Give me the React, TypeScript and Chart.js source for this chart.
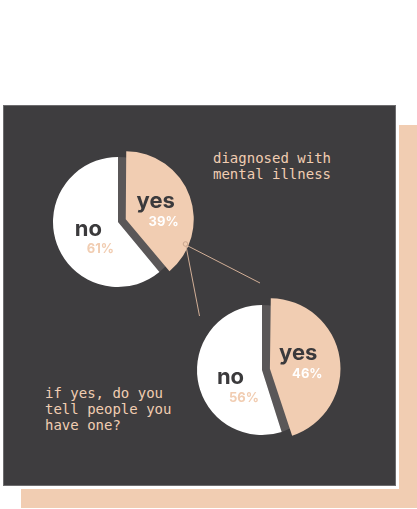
import React, { useEffect, useRef } from "react";
import { Chart, registerables } from "chart.js";

Chart.register(...registerables);

// ---- data ----
const categories = ["yes", "no"];
const diagnosedValues = [39, 61];
const tellValues = [46, 56];
const diagnosedTitle = ["diagnosed with", "mental illness"];
const tellTitle = ["if yes, do you", "tell people you", "have one?"];

// ---- style ----
const PEACH = "#f1cdb2";
const PANEL = "#3e3d3f";
const SHADOW = "#5a5758";
const DARK = "#3b3a3c";
const WHITE = "#ffffff";
const LINE = "#d2af97";
const WORD_FONT = "700 22px Inter, 'Noto Sans', sans-serif";
const PCT_FONT = "700 13px Inter, 'Noto Sans', sans-serif";

type LabelPos = { wdx: number; wdy: number; pdx: number; pdy: number };

const shadowPlugin = {
  id: "sliceShadow",
  beforeDatasetsDraw(chart: any) {
    const arc = chart.getDatasetMeta(0).data[0];
    if (!arc) return;
    const { x, y, startAngle, endAngle, outerRadius } = arc.getProps([
      "x",
      "y",
      "startAngle",
      "endAngle",
      "outerRadius",
    ]);
    const ctx = chart.ctx;
    ctx.save();
    ctx.beginPath();
    ctx.moveTo(x, y);
    ctx.arc(x, y, outerRadius, startAngle, endAngle);
    ctx.closePath();
    ctx.fillStyle = SHADOW;
    ctx.fill();
    ctx.restore();
  },
};

const labelPlugin = {
  id: "sliceLabels",
  afterDatasetsDraw(chart: any, _args: any, opts: any) {
    const ctx = chart.ctx;
    const meta = chart.getDatasetMeta(0);
    const values = chart.data.datasets[0].data as number[];
    const labels = chart.data.labels as string[];
    const pos: LabelPos[] = opts.positions;
    const wordColors: string[] = opts.wordColors;
    const pctColors: string[] = opts.pctColors;
    meta.data.forEach((arc: any, i: number) => {
      const { x, y, startAngle, endAngle, outerRadius } = arc.getProps([
        "x",
        "y",
        "startAngle",
        "endAngle",
        "outerRadius",
      ]);
      const half = (startAngle + endAngle) / 2;
      const cx = x + Math.cos(half) * 65 / 2;
      const cy = y + Math.sin(half) * 65 / 2;
      const p = pos[i];
      ctx.save();
      ctx.textAlign = "left";
      ctx.textBaseline = "alphabetic";
      ctx.font = WORD_FONT;
      ctx.fillStyle = wordColors[i];
      ctx.fillText(labels[i], cx + p.wdx, cy + p.wdy);
      ctx.font = PCT_FONT;
      ctx.fillStyle = pctColors[i];
      ctx.fillText(values[i] + "%", cx + p.pdx, cy + p.pdy);
      ctx.restore();
    });
  },
};

function PieChart(props: {
  values: number[];
  explode: number;
  positions: LabelPos[];
  left: number;
  top: number;
}) {
  const ref = useRef<HTMLCanvasElement | null>(null);
  useEffect(() => {
    if (!ref.current) return;
    const chart = new Chart(ref.current, {
      type: "pie",
      data: {
        labels: categories,
        datasets: [
          {
            data: props.values,
            backgroundColor: [PEACH, WHITE],
            borderWidth: 0,
            offset: [props.explode, 0],
            hoverOffset: 0,
          } as any,
        ],
      },
      options: {
        animation: false,
        responsive: false,
        maintainAspectRatio: false,
        radius: 65,
        rotation: 0,
        events: [],
        layout: { padding: 0 },
        plugins: {
          legend: { display: false },
          tooltip: { enabled: false },
          title: { display: false },
          sliceLabels: {
            positions: props.positions,
            wordColors: [DARK, DARK],
            pctColors: [WHITE, PEACH],
          },
        } as any,
      } as any,
      plugins: [shadowPlugin, labelPlugin],
    });
    return () => chart.destroy();
  }, []);
  return (
    <canvas
      ref={ref}
      width={170}
      height={170}
      style={{ position: "absolute", left: props.left, top: props.top, width: 170, height: 170 }}
    />
  );
}

const monoStyle: React.CSSProperties = {
  position: "absolute",
  fontFamily: "'DejaVu Sans Mono', monospace",
  fontSize: 14,
  color: PEACH,
  whiteSpace: "pre",
  margin: 0,
};

export default function App() {
  return (
    <div
      style={{
        position: "absolute",
        left: 0,
        top: 0,
        width: 417,
        height: 509,
        overflow: "hidden",
        background: "#ffffff",
      }}
    >
      <div
        style={{
          position: "absolute",
          left: 21,
          top: 125,
          width: 420,
          height: 383,
          background: PEACH,
        }}
      />
      <div
        style={{
          position: "absolute",
          left: 3,
          top: 105,
          width: 393,
          height: 381,
          boxSizing: "border-box",
          background: PANEL,
          border: "1px solid #6d6c6e",
          boxShadow: "0 0 0 3px #ffffff",
        }}
      />
      <div style={{ ...monoStyle, left: 213, top: 151.4, lineHeight: "15.5px" }}>
        {diagnosedTitle.join("\n")}
      </div>
      <div style={{ ...monoStyle, left: 45, top: 384.5, lineHeight: "16px" }}>
        {tellTitle.join("\n")}
      </div>
      <PieChart
        values={diagnosedValues}
        explode={33}
        left={33}
        top={137}
        positions={[
          { wdx: -12, wdy: -3, pdx: 0, pdy: 15 },
          { wdx: -12.7, wdy: 3, pdx: -0.7, pdy: 20 },
        ]}
      />
      <PieChart
        values={tellValues}
        explode={32}
        left={177}
        top={285}
        positions={[
          { wdx: -15, wdy: -5, pdx: -2, pdy: 13 },
          { wdx: -13, wdy: 9, pdx: -1, pdy: 27 },
        ]}
      />
      <svg
        width={417}
        height={509}
        style={{ position: "absolute", left: 0, top: 0, pointerEvents: "none" }}
      >
        <line x1={186} y1={245} x2={260} y2={283} stroke={LINE} strokeWidth={1} />
        <line x1={186} y1={246} x2={199.5} y2={316} stroke={LINE} strokeWidth={1} />
        <circle cx={185.5} cy={244} r={2.3} fill={PEACH} stroke="#c9a68e" strokeWidth={1} />
      </svg>
    </div>
  );
}
